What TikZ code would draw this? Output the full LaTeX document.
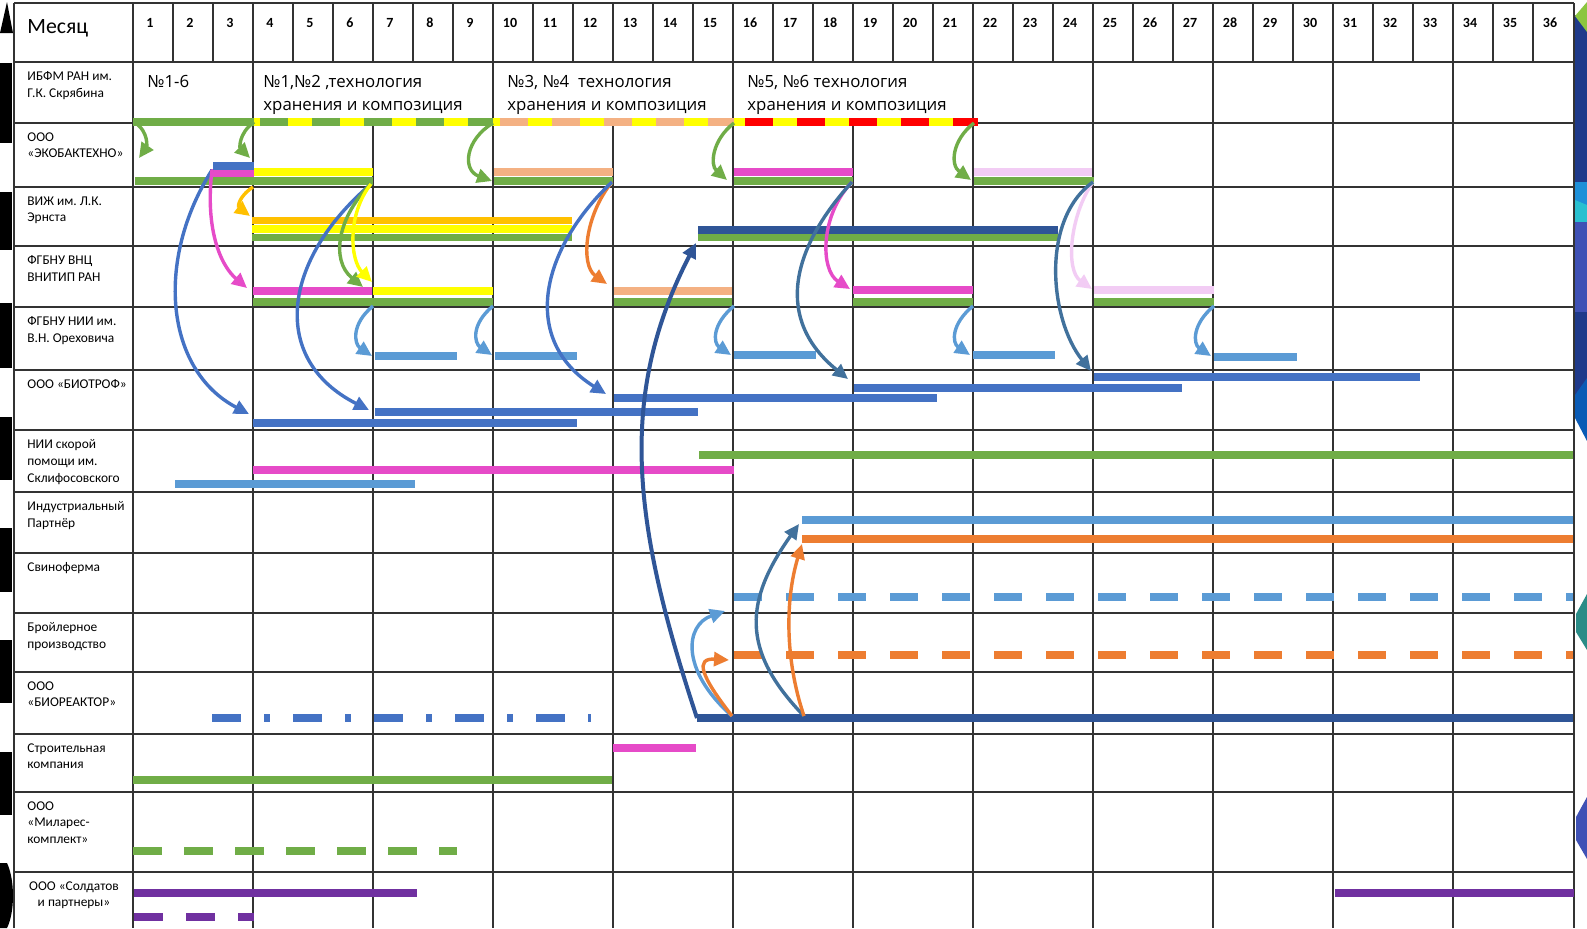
\documentclass[tikz,border=0pt]{standalone}
\usepackage{fontspec}
\setmainfont{Carlito}
\newfontfamily\stagefont{Open Sans}
\usetikzlibrary{arrows.meta}
\frenchspacing
\definecolor{cgreen}{HTML}{70AD47}
\definecolor{cyellow}{HTML}{FFFF00}
\definecolor{cpeach}{HTML}{F4B183}
\definecolor{cred}{HTML}{FF0000}
\definecolor{cblue}{HTML}{4472C4}
\definecolor{cpink}{HTML}{E64BC8}
\definecolor{cgold}{HTML}{FFC000}
\definecolor{cnavy}{HTML}{2F5597}
\definecolor{csteel}{HTML}{41719C}
\definecolor{csky}{HTML}{5B9BD5}
\definecolor{corange}{HTML}{ED7D31}
\definecolor{clilac}{HTML}{F2CCF4}
\definecolor{cpurple}{HTML}{7030A0}
\definecolor{dnavy}{HTML}{1F3A8A}
\definecolor{dindigo}{HTML}{3F51B5}
\definecolor{dcyan}{HTML}{29C0D0}
\definecolor{dsky}{HTML}{1E90D8}
\definecolor{dblue}{HTML}{0A5BB5}
\definecolor{dteal}{HTML}{2A8C87}
\definecolor{dgreen}{HTML}{8CC63F}

\begin{document}
\begin{tikzpicture}[x=0.5pt, y=-0.5pt,
  line/.style={draw=black!80, line width=1pt},
  bar/.style={line width=3.8pt},
  dashbar/.style={line width=3.8pt, dash pattern=on 14pt off 12pt},
  arrow/.style={-{Triangle[length=7.5pt,width=7pt]}, line width=1.7pt},
  lbl/.style={anchor=north west, inner sep=0pt, align=left, font=\fontsize{6.7}{8.4}\selectfont},
  mon/.style={anchor=base, inner sep=0pt, font=\bfseries\fontsize{7}{8}\selectfont},
  stage/.style={anchor=north west, inner sep=0pt, align=left, font=\stagefont\fontsize{8.4}{11.5}\selectfont}
]
\fill[white] (0,0) rectangle (1587,928);
\useasboundingbox (0,0) rectangle (1587,928);

% slide edges
\fill[black] (0,33) -- (13,33) -- (7,2) -- cycle;
\foreach \a/\b in {63/143,192/250,303/368,417/480,528/592,640/703,752/815}
  \fill[black] (0,\a) rectangle (12,\b);
\fill[black] (0,863) -- (7,863) .. controls (15,880) and (15,912) .. (7,928) -- (0,928) -- cycle;
\fill[dnavy] (1575,15) rectangle (1587,182);
\fill[dgreen] (1575,16) -- (1587,2) -- (1587,32) -- cycle;
\fill[dsky] (1575,182) rectangle (1587,205);
\fill[dcyan] (1575,200) -- (1587,205) -- (1587,222) -- (1575,222) -- cycle;
\fill[dindigo] (1575,222) rectangle (1587,312);
\fill[dnavy] (1575,312) rectangle (1587,400);
\fill[dblue] (1575,395) -- (1587,378) -- (1587,441) -- (1575,418) -- cycle;
\fill[dteal] (1587,594) -- (1576,614) -- (1576,632) -- (1587,650) -- cycle;
\fill[dindigo] (1587,797) -- (1576,817) -- (1576,840) -- (1587,859) -- cycle;

% table
\foreach \y in {3,62,123,187,246,307,370,430,492,553,613,672,734,792,872}
  \draw[line] (14,\y) -- (1574,\y);
\foreach \x in {14,133,1574}
  \draw[line] (\x,3) -- (\x,928);
\foreach \k in {1,...,35}
  \draw[line] ({133+40*\k},3) -- ({133+40*\k},62);
\foreach \k in {3,9,15,21,24,27,30,33}
  \draw[line] ({133+40*\k},62) -- ({133+40*\k},928);
\foreach \k in {6,12,18}
  \draw[line] ({133+40*\k},123) -- ({133+40*\k},928);

\node[anchor=base west, inner sep=0pt, font=\fontsize{10.9}{12}\selectfont] (month) at (27,33) {Месяц};
\foreach \k in {1,...,36}
  \node[mon] (m\k) at ({133+40*\k-23},27) {\k};

\foreach \y/\nm/\txt in {
  62/ibfm/{ИБФМ РАН им.\\Г.К. Скрябина},
  123/eko/{ООО\\«ЭКОБАКТЕХНО»},
  187/vizh/{ВИЖ им. Л.К.\\Эрнста},
  246/vnc/{ФГБНУ ВНЦ\\ВНИТИП РАН},
  307/orekh/{ФГБНУ НИИ им.\\В.Н. Ореховича},
  370/biotrof/{ООО «БИОТРОФ»},
  430/sklif/{НИИ скорой\\помощи им.\\Склифосовского},
  492/indust/{Индустриальный\\Партнёр},
  553/svin/{Свиноферма},
  613/broil/{Бройлерное\\производство},
  672/bioreakt/{ООО\\«БИОРЕАКТОР»},
  734/stroi/{Строительная\\компания},
  792/milares/{ООО\\«Миларес-\\комплект»}}
  \node[lbl] (\nm) at (27,\y+9) {\txt};
\node[lbl, anchor=north, align=center] (soldatov) at (74,881) {ООО «Солдатов\\и партнеры»};

\node[stage] (st1) at (147,75) {№1-6};
\node[stage] (st2) at (263,75) {№1,№2 ,технология\\хранения и композиция};
\node[stage] (st3) at (507,75) {№3, №4~ технология\\хранения и композиция};
\node[stage] (st4) at (747,75) {№5, №6 технология\\хранения и композиция};

% bars
\draw[bar, cyellow] (254,122) -- (978,122) (254,172) -- (373,172)
  (252,229) -- (572,229) (373,291) -- (493,291);
\draw[dashbar, cgreen] (260,122) -- (493,122);
\draw[dashbar, cpeach] (500,122) -- (734,122);
\draw[dashbar, cred] (745,122) -- (978,122);
\draw[bar, cgreen] (133,122) -- (254,122) (135,181) -- (373,181) (494,181) -- (613,181)
  (734,181) -- (853,181) (974,181) -- (1094,181) (252,237.5) -- (572,237.5)
  (698,237) -- (1058,237) (253,302) -- (493,302) (614,302) -- (732,302)
  (853,302) -- (973,302) (1094,302) -- (1214,302) (699,455) -- (1573,455)
  (133,780) -- (612,780);
\draw[bar, cpeach] (494,172) -- (613,172) (614,291) -- (732,291);
\draw[bar, cpink] (210,173) -- (254,173) (734,172) -- (853,172) (253,291) -- (372,291)
  (853,290) -- (973,290) (253,470) -- (734,470) (613,748) -- (696,748);
\draw[bar, clilac] (974,172) -- (1092,172) (1094,290) -- (1214,290);
\draw[bar, cgold] (252,220.5) -- (572,220.5);
\draw[bar, cblue] (213,166) -- (254,166) (253,423) -- (577,423) (375,412) -- (698,412)
  (614,398) -- (937,398) (854,388) -- (1182,388) (1094,377) -- (1420,377);
\draw[bar, cnavy] (698,230) -- (1058,230) (697,718) -- (1573,718);
\draw[bar, csky] (375,356) -- (457,356) (495,356) -- (577,356) (734,355) -- (816,355)
  (973,355) -- (1055,355) (1214,357) -- (1297,357) (175,484) -- (415,484)
  (802,520) -- (1573,520);
\draw[bar, corange] (802,539) -- (1573,539);
\draw[dashbar, csky] (734,597) -- (1573,597);
\draw[dashbar, corange] (734,655) -- (1573,655);
\draw[bar, cblue, dash pattern=on 14.5pt off 11.5pt on 3pt off 11.5pt] (212,718) -- (591,718);
\draw[bar, cgreen, dash pattern=on 14.5pt off 11pt] (133,851) -- (457,851);
\draw[bar, cpurple] (134,893) -- (417,893) (1335,893) -- (1574,893);
\draw[bar, cpurple, dash pattern=on 14.5pt off 11.5pt] (134,917) -- (254,917);

% arrow ends
\coordinate (ib0) at (134,122);
\coordinate (ib3) at (254,122);
\coordinate (ib9) at (493,123);
\coordinate (ib15) at (734,123);
\coordinate (ib21) at (974,123);
\coordinate (ek0) at (139,158);
\coordinate (ek3) at (250,158);
\coordinate (ek9) at (492,181);
\coordinate (ek15) at (727,180);
\coordinate (ek21) at (971,180);
\coordinate (ekb) at (212,170);
\coordinate (ek3b) at (253,187);
\coordinate (ek6) at (371,184);
\coordinate (ek12) at (612,182);
\coordinate (ek18) at (852,182);
\coordinate (ek24) at (1093,182);
\coordinate (vz3) at (250,216);
\coordinate (vz15) at (696,243);
\coordinate (vn3) at (247,288);
\coordinate (vn6g) at (363,287);
\coordinate (vn6y) at (372,282);
\coordinate (vn12) at (607,284);
\coordinate (vn18) at (850,289);
\coordinate (vn24) at (1092,289);
\coordinate (bt3) at (249,414);
\coordinate (bt6) at (369,410);
\coordinate (bt12) at (606,394);
\coordinate (bt18) at (848,379);
\coordinate (bt24) at (1091,371);
\coordinate (br) at (697,718);
\coordinate (br15) at (732,716);
\coordinate (br17) at (804,716);
\coordinate (bf15b) at (725,611);
\coordinate (bf15o) at (729,660);
\coordinate (ip17b) at (799,524);
\coordinate (ip17o) at (802,544);

% arrows
\draw[arrow, cgreen] (ib0) .. controls +(16,10) and +(7,-10) .. (ek0);
\draw[arrow, cgreen] (ib3) .. controls +(-16,12) and +(-10,-10) .. (ek3);
\draw[arrow, cgreen] (ib9) .. controls +(-28,17) and +(-30,-11) .. (ek9);
\draw[arrow, cgreen] (ib15) .. controls +(-22,17) and +(-17,-15) .. (ek15);
\draw[arrow, cgreen] (ib21) .. controls +(-22,17) and +(-21,-15) .. (ek21);
\draw[arrow, cgold] (ek3b) .. controls +(-15,10) and +(-12,-9) .. (vz3);
\draw[arrow, cblue] (ekb) .. controls +(-57,90) and +(-84,-44) .. (bt3);
\draw[arrow, cpink] (ekb) .. controls +(-7,58) and +(-27,-23) .. (vn3);
\draw[arrow, cblue] (ek6) .. controls +(-90,77) and +(-99,-50) .. (bt6);
\draw[arrow, cgreen] (ek6) .. controls +(-33,32) and +(-33,-27) .. (vn6g);
\draw[arrow, cyellow] (ek6) .. controls +(-24,30) and +(-22,-22) .. (vn6y);
\draw[arrow, corange] (ek12) .. controls +(-27,33) and +(-27,-19) .. (vn12);
\draw[arrow, cblue] (ek12) .. controls +(-72,68) and +(-86,-54) .. (bt12);
\draw[arrow, cpink] (ek18) .. controls +(-32,33) and +(-30,-19) .. (vn18);
\draw[arrow, csteel] (ek18) .. controls +(-62,68) and +(-73,-59) .. (bt18);
\draw[arrow, clilac] (ek24) .. controls +(-23,33) and +(-27,-19) .. (vn24);
\draw[arrow, csteel] (ek24) .. controls +(-53,38) and +(-41,-51) .. (bt24);
\foreach \a/\b/\c in {373/372/356,493/492/355,734/731/355,973/970/355,1214/1211/356} {
  \coordinate (vs\a) at (\a,306);
  \coordinate (ot\a) at (\b,\c);
  \draw[arrow, csky] (vs\a) .. controls +(-22,18) and +(-18,-12) .. (ot\a);
}
\draw[arrow, cnavy, line width=2pt] (br) .. controls +(-62,-188) and +(-81,157) .. (vz15);
\draw[arrow, csky] (br15) .. controls +(-52,-46) and +(-40,14) .. (bf15b);
\draw[arrow, corange] (br15) .. controls +(-32,-41) and +(-34,-2) .. (bf15o);
\draw[arrow, csteel] (br17) .. controls +(-64,-66) and +(-54,76) .. (ip17b);
\draw[arrow, corange] (br17) .. controls +(-19,-56) and +(-17,56) .. (ip17o);
\end{tikzpicture}
\end{document}
